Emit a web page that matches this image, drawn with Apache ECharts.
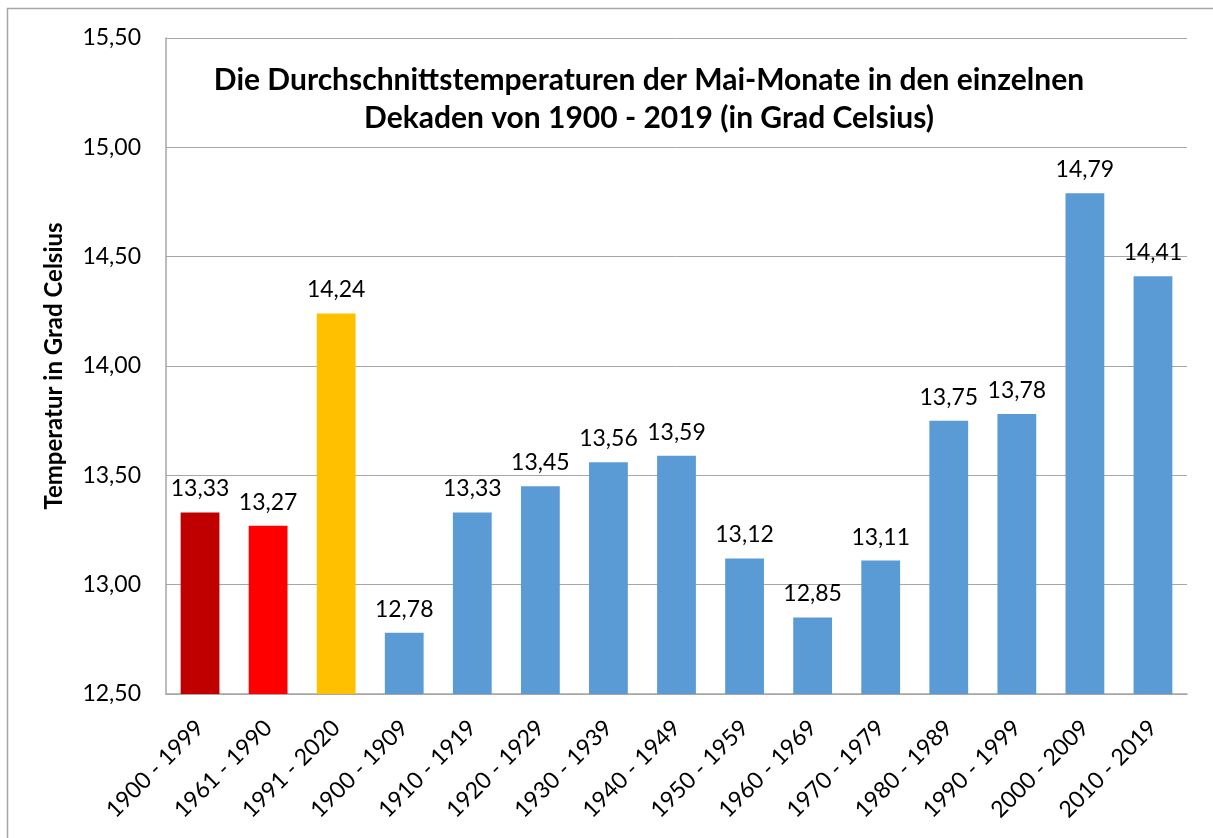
<!DOCTYPE html>
<html><head><meta charset="utf-8">
<script src="https://cdn.jsdelivr.net/npm/echarts@6/dist/echarts.min.js"></script>
<style>html,body{margin:0;padding:0;background:#fff}#c{width:1213px;height:838px}</style>
</head><body><div id="c"></div>
<script>
const categories = ["1900 - 1999","1961 - 1990","1991 - 2020","1900 - 1909","1910 - 1919","1920 - 1929","1930 - 1939","1940 - 1949","1950 - 1959","1960 - 1969","1970 - 1979","1980 - 1989","1990 - 1999","2000 - 2009","2010 - 2019"];
const values = [13.33,13.27,14.24,12.78,13.33,13.45,13.56,13.59,13.12,12.85,13.11,13.75,13.78,14.79,14.41];
const barColors = ["#C00000","#FF0000","#FFC000","#5B9BD5","#5B9BD5","#5B9BD5","#5B9BD5","#5B9BD5","#5B9BD5","#5B9BD5","#5B9BD5","#5B9BD5","#5B9BD5","#5B9BD5","#5B9BD5"];
const titleLines = ["Die Durchschnittstemperaturen der Mai-Monate in den einzelnen","Dekaden von 1900 - 2019 (in Grad Celsius)"];
const yAxisName = "Temperatur in Grad Celsius";
const FONT = "Lato, 'Open Sans', sans-serif";
const fmt = v => v.toFixed(2).replace('.', ',');
const chart = echarts.init(document.getElementById('c'), null, {renderer:'canvas'});
chart.setOption({
  animation:false,
  backgroundColor:'#fff',
  graphic:[{type:'rect',shape:{x:7.5,y:8.5,width:1230,height:860},style:{fill:'none',stroke:'#a6a6a6',lineWidth:1.5},z:-1}],
  title:{text:titleLines.join('\n'),left:644,top:56,textAlign:'center',
    textStyle:{fontFamily:FONT,fontSize:30,fontWeight:'bold',color:'#000',lineHeight:38}},
  grid:{left:166,top:38,right:26,bottom:144,containLabel:false},
  xAxis:{type:'category',data:categories,
    axisLine:{lineStyle:{color:'#a6a6a6',width:1.5}},axisTick:{show:false},
    axisLabel:{rotate:45,interval:0,fontFamily:FONT,fontSize:23,color:'#000',margin:30}},
  yAxis:{type:'value',min:12.5,max:15.5,interval:0.5,
    name:yAxisName,nameLocation:'middle',nameGap:100,
    nameTextStyle:{fontFamily:FONT,fontSize:24,fontWeight:'bold',color:'#000'},
    axisLine:{show:true,lineStyle:{color:'#a6a6a6',width:1.5}},axisTick:{show:false},
    splitLine:{lineStyle:{color:'#a6a6a6',width:1}},
    axisLabel:{formatter:v=>fmt(v),fontFamily:FONT,fontSize:23,color:'#000',margin:25}},
  series:[{type:'bar',barWidth:'57%',
    data:values.map((v,i)=>({value:v,itemStyle:{color:barColors[i]}})),
    label:{show:true,position:'top',distance:12,formatter:p=>fmt(p.value),fontFamily:FONT,fontSize:23,color:'#000'}}]
});
</script></body></html>
